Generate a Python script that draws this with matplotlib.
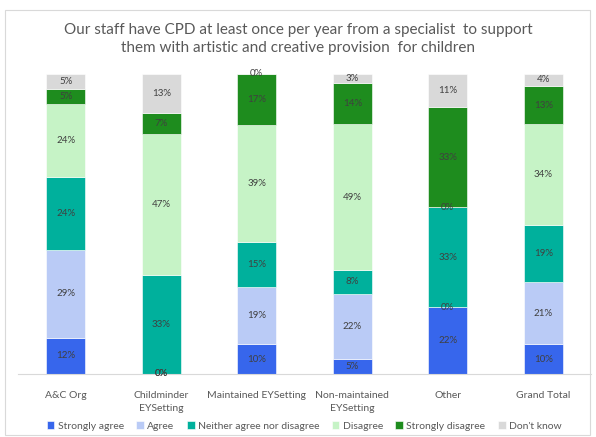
import matplotlib.pyplot as plt
from matplotlib.patches import Rectangle

categories = ['A&C Org', 'Childminder\nEYSetting', 'Maintained EYSetting',
              'Non-maintained\nEYSetting', 'Other', 'Grand Total']
series = ['Strongly agree', 'Agree', 'Neither agree nor disagree',
          'Disagree', 'Strongly disagree', "Don't know"]

strongly_agree = [12, 0, 10, 5, 22, 10]
agree = [29, 0, 19, 22, 0, 21]
neither = [24, 33, 15, 8, 33, 19]
disagree = [24, 47, 39, 49, 0, 34]
strongly_disagree = [5, 7, 17, 14, 33, 13]
dont_know = [5, 13, 0, 3, 11, 4]

colors = ['#3766EC', '#BACBF6', '#00B09C', '#C6F3C6', '#1E8C1E', '#D9D9D9']

values = [strongly_agree, agree, neither, disagree, strongly_disagree, dont_know]

plt.rcParams['font.family'] = ['Lato', 'DejaVu Sans']

fig = plt.figure(figsize=(5.96, 4.37), dpi=100)
fig.patches.append(Rectangle((5 / 596, 2 / 437), 585 / 596, 425 / 437,
                             transform=fig.transFigure, fill=False,
                             edgecolor='#D9D9D9', linewidth=0.8))

ax = fig.add_axes([18 / 596, 63 / 437, 573 / 596, 300 / 437])

totals = [sum(v[i] for v in values) for i in range(len(categories))]
x = list(range(len(categories)))
bottoms = [0.0] * len(categories)

for name, vals, col in zip(series, values, colors):
    heights = [v / t * 100 for v, t in zip(vals, totals)]
    ax.bar(x, heights, bottom=bottoms, width=0.41, color=col, label=name,
           edgecolor='white', linewidth=0.4)
    for i, (h, v) in enumerate(zip(heights, vals)):
        ax.text(x[i], bottoms[i] + h / 2, f'{v}%', ha='center', va='center',
                fontsize=7, color='#404040')
    bottoms = [b + h for b, h in zip(bottoms, heights)]

ax.set_xlim(-0.5, len(categories) - 0.5)
ax.set_ylim(0, 100)
ax.set_xticks(x)
ax.set_xticklabels(categories, fontsize=7.5, color='#595959', linespacing=1.6)
ax.tick_params(axis='x', length=0, pad=12)
ax.set_yticks([])
for side in ['top', 'left', 'right']:
    ax.spines[side].set_visible(False)
ax.spines['bottom'].set_color('#D9D9D9')

fig.text(0.5, 1 - 39 / 437, 'Our staff have CPD at least once per year from a specialist  to support\n'
         'them with artistic and creative provision  for children',
         ha='center', va='center', fontsize=11, color='#595959', linespacing=1.45)

fig.legend(loc='center', bbox_to_anchor=(0.51, 11 / 437), ncol=6, frameon=False,
           fontsize=7.5, handlelength=0.75, handleheight=0.75, handletextpad=0.3,
           columnspacing=1.2, labelcolor='#595959')

plt.savefig('out.png', dpi=100)
